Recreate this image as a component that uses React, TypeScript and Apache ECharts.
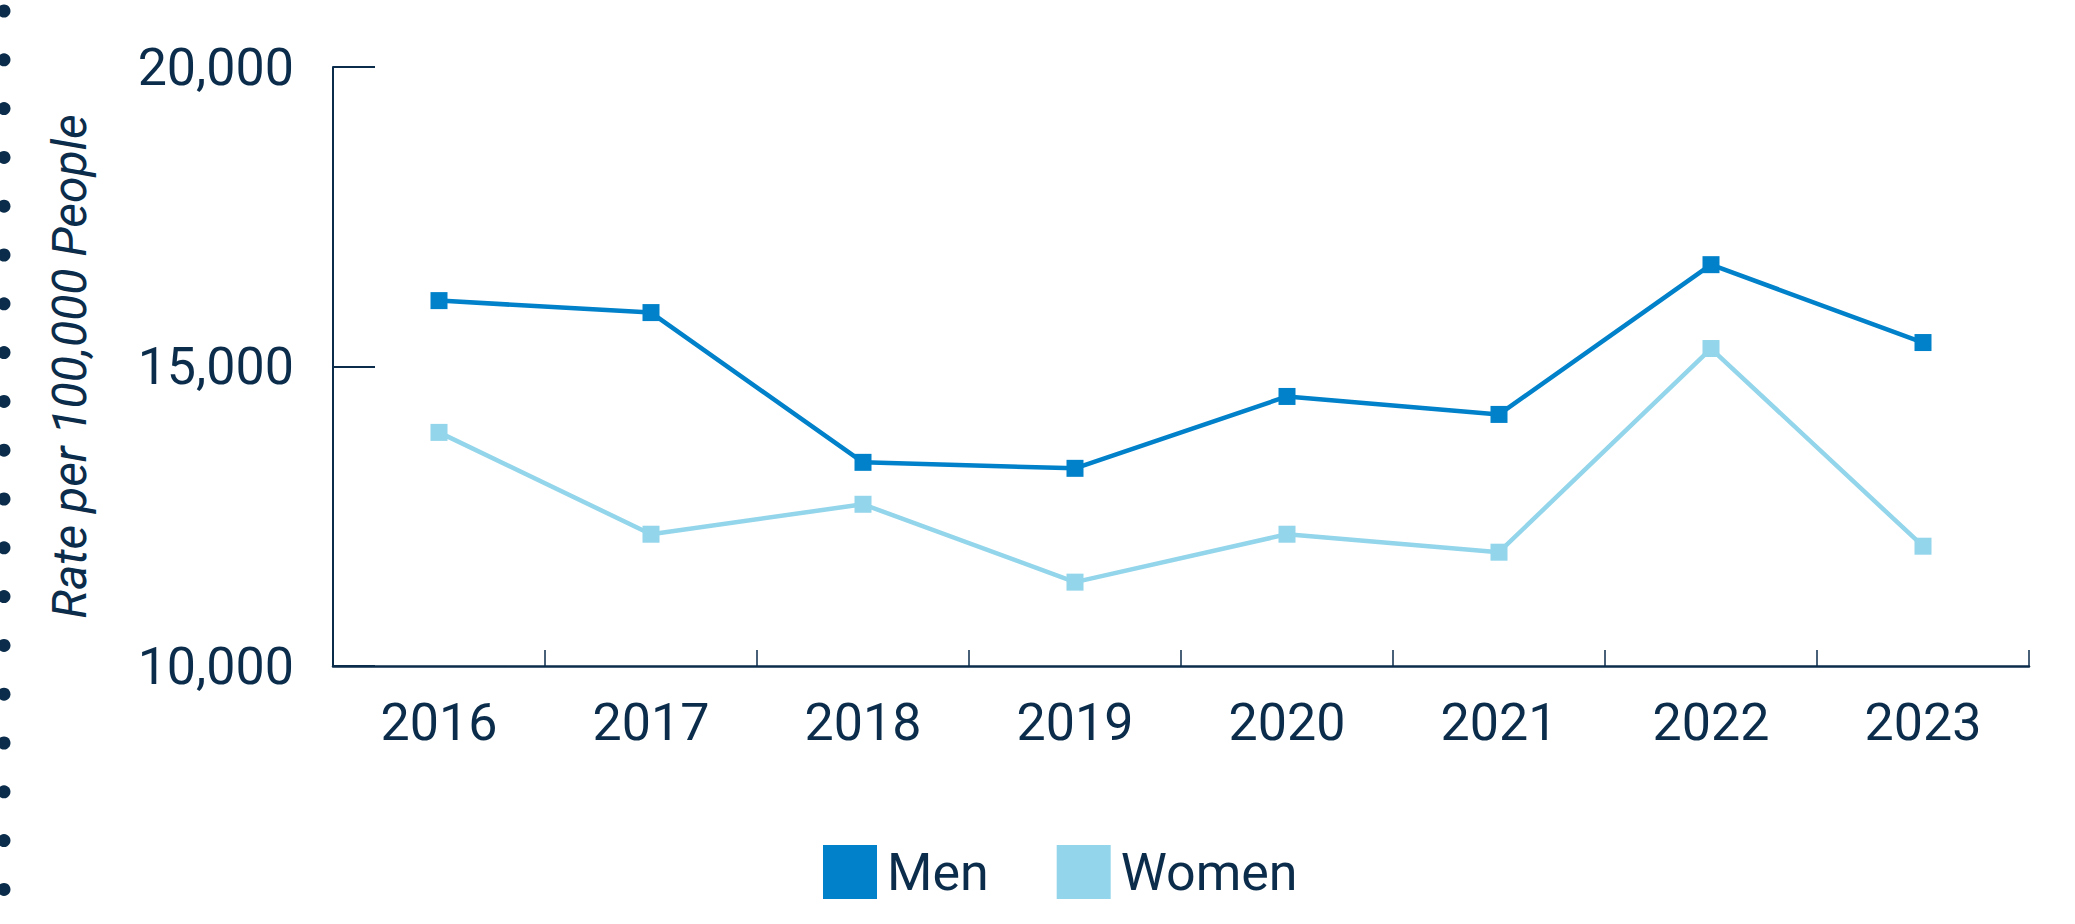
import React, { useEffect, useRef } from "react";
import * as echarts from "echarts";

const years = ["2016", "2017", "2018", "2019", "2020", "2021", "2022", "2023"];
const men = [16100, 15900, 13400, 13300, 14500, 14200, 16700, 15400];
const women = [13900, 12200, 12700, 11400, 12200, 11900, 15300, 12000];
const seriesNames = ["Men", "Women"];
const yAxisTitle = "Rate per 100,000 People";

const NAVY = "#0b2d4b";
const MEN_COLOR = "#0081c9";
const WOMEN_COLOR = "#93d5ea";
const FONT = "Roboto";

export default function App() {
  const ref = useRef<HTMLDivElement>(null);
  useEffect(() => {
    if (!ref.current) return;
    const chart = echarts.init(ref.current, undefined, { renderer: "svg" });
    const dots: any[] = [];
    for (let i = 0; i < 19; i++) {
      dots.push({
        type: "circle",
        shape: { cx: 4, cy: 11 + i * 48.8, r: 6.5 },
        style: { fill: NAVY },
        silent: true,
      });
    }
    chart.setOption({
      animation: false,
      backgroundColor: "#ffffff",
      textStyle: { fontFamily: FONT, color: NAVY },
      graphic: dots,
      legend: {
        left: 818,
        top: 840,
        itemWidth: 54,
        itemHeight: 54,
        itemGap: 68,
        icon: "rect",
        data: seriesNames,
        textStyle: {
          fontFamily: FONT,
          fontSize: 52,
          color: NAVY,
          padding: [0, 0, 0, 5],
        },
      },
      grid: { left: 333, right: 46, top: 67, bottom: 258, containLabel: false },
      xAxis: {
        type: "category",
        data: years,
        boundaryGap: true,
        axisLine: { show: true, lineStyle: { color: NAVY, width: 2.5 } },
        axisTick: { show: true, inside: true, length: 16, lineStyle: { color: NAVY, width: 1.5 } },
        axisLabel: { color: NAVY, fontFamily: FONT, fontSize: 52, margin: 30 },
        splitLine: { show: false },
      },
      yAxis: {
        type: "value",
        min: 10000,
        max: 20000,
        interval: 5000,
        name: yAxisTitle,
        nameLocation: "middle",
        nameGap: 240,
        nameRotate: 90,
        nameTextStyle: { fontFamily: FONT, fontSize: 48, fontStyle: "italic", color: NAVY },
        axisLine: { show: true, lineStyle: { color: NAVY, width: 2 } },
        axisTick: { show: true, inside: true, length: 42, lineStyle: { color: NAVY, width: 2 } },
        axisLabel: {
          color: NAVY,
          fontFamily: FONT,
          fontSize: 52,
          margin: 39,
          formatter: (v: number) => v.toLocaleString("en-US"),
        },
        splitLine: { show: false },
      },
      series: [
        {
          name: seriesNames[0],
          type: "line",
          data: men,
          color: MEN_COLOR,
          symbol: "rect",
          symbolSize: 17,
          lineStyle: { color: MEN_COLOR, width: 4.5 },
          itemStyle: { color: MEN_COLOR },
        },
        {
          name: seriesNames[1],
          type: "line",
          data: women,
          color: WOMEN_COLOR,
          symbol: "rect",
          symbolSize: 17,
          lineStyle: { color: WOMEN_COLOR, width: 4.5 },
          itemStyle: { color: WOMEN_COLOR },
        },
      ],
    });
    return () => chart.dispose();
  }, []);
  return (
    <div
      ref={ref}
      style={{ position: "absolute", left: 0, top: 0, width: 2075, height: 924 }}
    />
  );
}
